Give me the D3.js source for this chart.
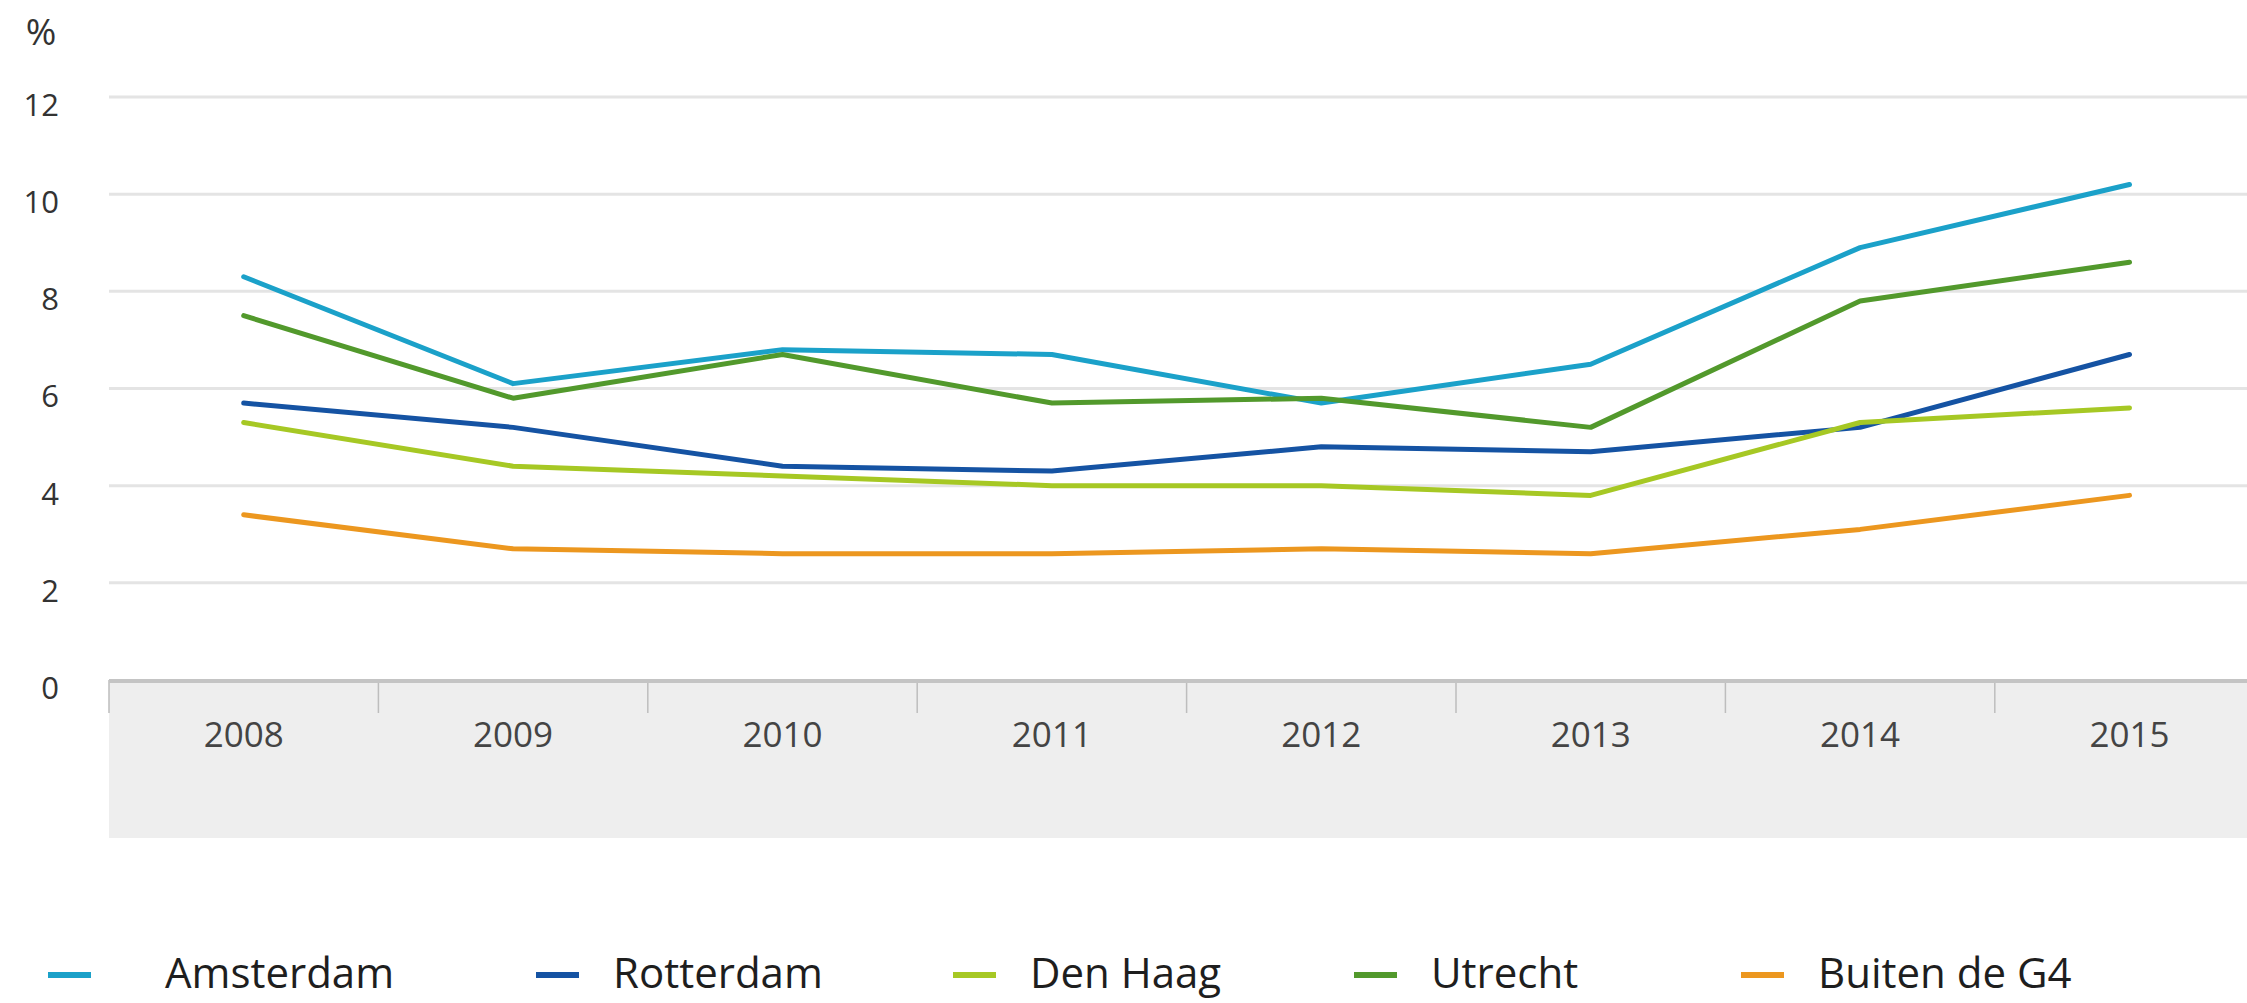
<!DOCTYPE html>
<html>
<head>
<meta charset="utf-8">
<script src="https://cdnjs.cloudflare.com/ajax/libs/d3/7.8.5/d3.min.js"></script>
<style>
    body { margin: 0; background: #fff; }
    svg { display: block; font-family: "Open Sans", "Noto Sans", sans-serif; }
</style>
</head>
<body>
<svg id="chart" width="2247" height="1003"></svg>
<script>
// data
var years = ["2008", "2009", "2010", "2011", "2012", "2013", "2014", "2015"];
var yTicks = [0, 2, 4, 6, 8, 10, 12];
var seriesNames = ["Amsterdam", "Rotterdam", "Den Haag", "Utrecht", "Buiten de G4"];
var seriesColors = ["#1ba1c9", "#1553a3", "#a6c824", "#52992c", "#ec971f"];
var amsterdam = [8.3, 6.1, 6.8, 6.7, 5.7, 6.5, 8.9, 10.2];
var rotterdam = [5.7, 5.2, 4.4, 4.3, 4.8, 4.7, 5.2, 6.7];
var denHaag = [5.3, 4.4, 4.2, 4.0, 4.0, 3.8, 5.3, 5.6];
var utrecht = [7.5, 5.8, 6.7, 5.7, 5.8, 5.2, 7.8, 8.6];
var buiten = [3.4, 2.7, 2.6, 2.6, 2.7, 2.6, 3.1, 3.8];
var seriesValues = [amsterdam, rotterdam, denHaag, utrecht, buiten];

var svg = d3.select("#chart");

var left = 109, bandW = 269.4;
var x = d3.scaleBand()
    .domain(years)
    .range([left, left + bandW * years.length]);
var y = d3.scaleLinear()
    .domain([0, 12])
    .range([680, 97]);

//x band background
svg.append("rect")
    .attr("x", left)
    .attr("y", y(0))
    .attr("width", 2247 - left)
    .attr("height", 838 - y(0))
    .attr("fill", "#eeeeee");

//gridlines
svg.append("g")
    .selectAll("line")
    .data(yTicks.filter(function (d) { return d > 0; }))
    .enter()
    .append("line")
    .attr("x1", left)
    .attr("x2", 2247)
    .attr("y1", function (d) { return y(d); })
    .attr("y2", function (d) { return y(d); })
    .attr("stroke", "#e4e4e4")
    .attr("stroke-width", 3);

//y labels
svg.append("g")
    .selectAll("text")
    .data(yTicks)
    .enter()
    .append("text")
    .attr("x", 59)
    .attr("y", function (d) { return y(d) + 8; })
    .attr("dy", ".35em")
    .attr("text-anchor", "end")
    .attr("font-size", 31)
    .attr("fill", "#333")
    .text(function (d) { return d; });

svg.append("text")
    .attr("x", 41)
    .attr("y", 32)
    .attr("dy", ".35em")
    .attr("text-anchor", "middle")
    .attr("font-size", 37)
    .attr("fill", "#333")
    .text("%");

//band separators
svg.append("g")
    .selectAll("line")
    .data(years)
    .enter()
    .append("line")
    .attr("x1", function (d) { return x(d); })
    .attr("x2", function (d) { return x(d); })
    .attr("y1", y(0))
    .attr("y2", y(0) + 33)
    .attr("stroke", "#bdbdbd")
    .attr("stroke-width", 1.5);

//axis line
svg.append("line")
    .attr("x1", left)
    .attr("x2", 2247)
    .attr("y1", y(0) + 1)
    .attr("y2", y(0) + 1)
    .attr("stroke", "#c4c4c4")
    .attr("stroke-width", 4);

//x labels
svg.append("g")
    .selectAll("text")
    .data(years)
    .enter()
    .append("text")
    .attr("x", function (d) { return x(d) + x.bandwidth() / 2; })
    .attr("y", 735)
    .attr("dy", ".35em")
    .attr("text-anchor", "middle")
    .attr("font-size", 35)
    .attr("fill", "#444")
    .text(function (d) { return d; });

//lines
var line = d3.line()
    .x(function (d, i) { return x(years[i]) + x.bandwidth() / 2; })
    .y(function (d) { return y(d); });

svg.append("g")
    .selectAll("path")
    .data(seriesValues)
    .enter()
    .append("path")
    .attr("d", function (d) { return line(d); })
    .attr("fill", "none")
    .attr("stroke", function (d, i) { return seriesColors[i]; })
    .attr("stroke-width", 5)
    .attr("stroke-linejoin", "round")
    .attr("stroke-linecap", "round");

//legend
var legendX = [48, 536, 953, 1354, 1741];
var legend = svg.append("g")
    .selectAll("g")
    .data(seriesNames)
    .enter()
    .append("g")
    .attr("transform", function (d, i) { return "translate(" + legendX[i] + ",975)"; });

legend.append("line")
    .attr("x1", 0)
    .attr("x2", 43)
    .attr("y1", 0)
    .attr("y2", 0)
    .attr("stroke", function (d, i) { return seriesColors[i]; })
    .attr("stroke-width", 6);

legend.append("text")
    .attr("x", function (d, i) { return i == 0 ? 117 : 77; })
    .attr("y", 13)
    .attr("font-size", 42)
    .attr("fill", "#1e1e1e")
    .text(function (d) { return d; });
</script>
</body>
</html>
